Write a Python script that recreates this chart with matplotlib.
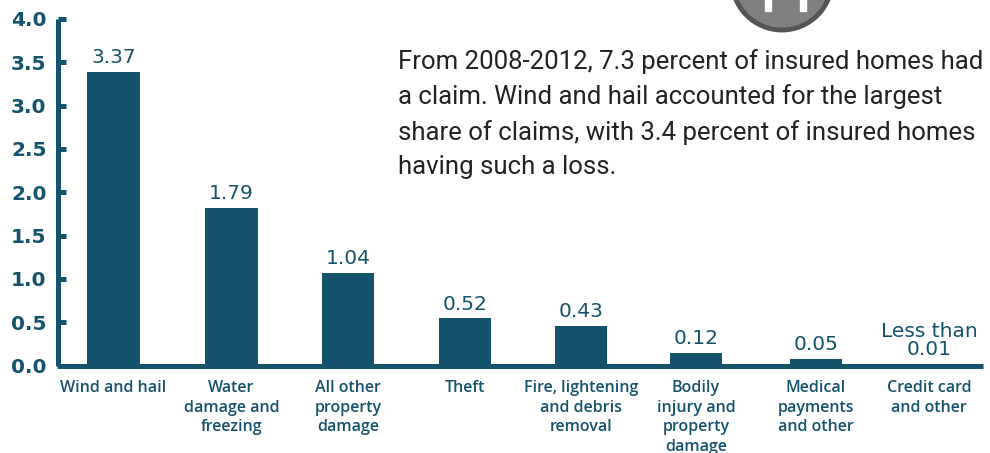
import matplotlib
matplotlib.use('Agg')
import matplotlib.pyplot as plt
from matplotlib.patches import Circle, Rectangle
from matplotlib.transforms import Affine2D

categories = ['Wind and hail', 'Water\ndamage and\nfreezing', 'All other\nproperty\ndamage',
              'Theft', 'Fire, lightening\nand debris\nremoval', 'Bodily\ninjury and\nproperty\ndamage',
              'Medical\npayments\nand other', 'Credit card\nand other']
# last one is "less than 0.01", no bar is visible for it in the original
values = [3.37, 1.79, 1.04, 0.52, 0.43, 0.12, 0.05, 0.0]
value_labels = ['3.37', '1.79', '1.04', '0.52', '0.43', '0.12', '0.05', 'Less than\n0.01']
y_ticks = [0.0, 0.5, 1.0, 1.5, 2.0, 2.5, 3.0, 3.5, 4.0]
# the categories are not quite evenly spaced in the original
x_pos = [0, 1.013, 2.013, 3.017, 4.013, 5.0, 6.03, 7.0]

note = ('From 2008-2012, 7.3 percent of insured homes had\n'
        'a claim. Wind and hail accounted for the largest\n'
        'share of claims, with 3.4 percent of insured homes\n'
        'having such a loss.')

W, H = 990, 453
TEAL = '#15526b'

fig = plt.figure(figsize=(W / 100, H / 100), dpi=100)

# axes box in pixels: left 57.5, right 983, y=0 at 365.5, y=4 at 19
ax = fig.add_axes([57.5 / W, (H - 365.5) / H, (983 - 57.5) / W, 346.5 / H])
ax.set_ylim(0, 4)
ax.set_xlim((57.5 - 113.5) / 116.5, (983 - 113.5) / 116.5)

for side in ['top', 'right']:
    ax.spines[side].set_visible(False)
for side in ['left', 'bottom']:
    ax.spines[side].set_color(TEAL)
    ax.spines[side].set_linewidth(3.6)
    ax.spines[side].set_capstyle('butt')

# bars sit on top of the thick axis line
bump = Affine2D().translate(0, 2)
bars = ax.bar(x_pos, values, width=0.45, color=TEAL, transform=ax.transData + bump)

for x, v, lab in zip(x_pos, values, value_labels):
    ax.annotate(lab, (x, v), xytext=(0, 5), textcoords='offset points', ha='center', va='bottom',
                fontsize=14.5, color=TEAL, linespacing=0.9, family='DejaVu Sans')

ax.set_yticks(y_ticks)
ax.set_yticklabels(['%.1f' % t for t in y_ticks], fontsize=14.5, fontweight='bold', color=TEAL)
ax.tick_params(axis='y', length=0, pad=8)
for t in y_ticks:
    ax.plot([0, 8 / 925.5], [t, t], transform=ax.get_yaxis_transform(), color=TEAL, lw=3.6,
            solid_capstyle='butt', clip_on=False)

ax.set_xticks(x_pos)
ax.set_xticklabels(categories, fontsize=11.5, color=TEAL, family='Open Sans', fontweight=600, linespacing=1.3)
ax.tick_params(axis='x', length=0, pad=10.5)

# text block and the cut-off icon, in figure pixels
over = fig.add_axes([0, 0, 1, 1], facecolor='none')
over.set_xlim(0, W)
over.set_ylim(H, 0)
over.axis('off')
over.add_patch(Circle((782, -20), 50, facecolor='#808080', edgecolor='#555555', lw=3.5))
over.add_patch(Rectangle((765, -5), 6, 16, color='white'))
over.add_patch(Rectangle((800, -5), 6, 16, color='white'))
over.text(398, 49, note, fontsize=18.5, family='Roboto', color='#222222', va='top', ha='left',
          linespacing=1.53)

fig.savefig('out.png', dpi=100)
